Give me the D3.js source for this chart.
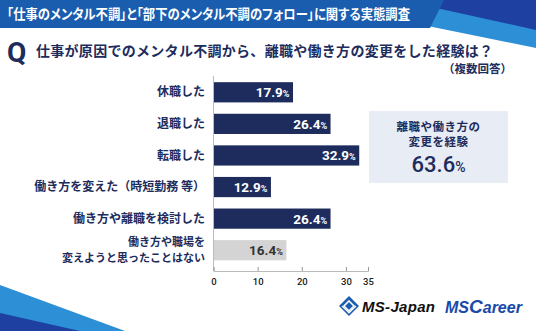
<!DOCTYPE html>
<html><head><meta charset="utf-8">
<script src="https://cdn.jsdelivr.net/npm/d3@7"></script>
<style>body{margin:0;background:#fff}svg{display:block;font-family:"Noto Sans CJK JP","Noto Sans",sans-serif}</style>
</head><body>
<script>
const categories = ["休職した","退職した","転職した","働き方を変えた（時短勤務 等）","働き方や離職を検討した","働き方や職場を\n変えようと思ったことはない"];
const values = [17.9,26.4,32.9,12.9,26.4,16.4];
const highlight = [false,false,false,false,false,true];
const tickValues = [0,10,20,30,35];
const title = "「仕事のメンタル不調」と「部下のメンタル不調のフォロー」に関する実態調査";
const question = "仕事が原因でのメンタル不調から、離職や働き方の変更をした経験は？";
const note = "（複数回答）";
const summaryLines = ["離職や働き方の","変更を経験"];
const summaryValue = 63.6;

const W=536,H=331;
const svg=d3.select("body").append("svg").attr("width",W).attr("height",H);
const navy="#1d2c5c";

// header decorations
svg.append("path").attr("d","M300,0 L536,0 L536,48 Z").attr("fill","#2d8fd6");
svg.append("path").attr("d","M400,0 L536,0 L536,30 Z").attr("fill","#1e40a0");
svg.append("path").attr("d","M0,0 L444,0 L430,28 L0,28 Z").attr("fill","#1a5cad");
svg.append("text").attr("x",7).attr("y",19).attr("fill","#fff").attr("font-size",14).attr("font-weight",700)
  .style("font-feature-settings","'palt'").attr("textLength",403).attr("lengthAdjust","spacingAndGlyphs").text(title);

// bottom-left decorations
svg.append("path").attr("d","M0,285 L125,331 L0,331 Z").attr("fill","#2d8fd6");
svg.append("path").attr("d","M0,313 L80,331 L0,331 Z").attr("fill","#1e40a0");

// Q
svg.append("text").attr("x",7).attr("y",62).attr("fill",navy).attr("font-size",28).attr("font-weight",700).attr("font-family","Roboto,sans-serif").text("Q");
svg.append("text").attr("x",36).attr("y",56).attr("fill",navy).attr("font-size",14).attr("font-weight",700)
  .attr("textLength",457).attr("lengthAdjust","spacing").text(question);
svg.append("text").attr("x",512).attr("y",73).attr("text-anchor","end").attr("fill",navy).attr("font-size",11.5).attr("font-weight",700).text(note);

// chart
const x=d3.scaleLinear().domain([0,35]).range([213.5,368]);
const y=d3.scaleBand().domain(categories).range([76.5,266]).paddingInner(0.36).paddingOuter(0.18);

svg.append("line").attr("x1",x(0)).attr("x2",x(0)).attr("y1",76).attr("y2",271).attr("stroke","#bbb").attr("stroke-width",1);

const g=svg.append("g");
g.selectAll("rect").data(categories).join("rect")
 .attr("x",x(0)+0.5).attr("y",d=>y(d)).attr("height",y.bandwidth())
 .attr("width",(d,i)=>x(values[i])-x(0)).attr("fill",(d,i)=>highlight[i]?"#d4d4d4":navy);

const vl=g.selectAll("text.v").data(categories).join("text").attr("class","v")
 .attr("x",(d,i)=>x(values[i])-3).attr("y",d=>y(d)+y.bandwidth()/2+5)
 .attr("text-anchor","end").attr("fill",(d,i)=>highlight[i]?"#333":"#fff")
 .attr("font-family","Roboto,'Noto Sans',sans-serif").attr("font-weight",700).attr("font-size",13.5);
vl.append("tspan").text((d,i)=>values[i].toFixed(1));
vl.append("tspan").attr("font-size",9).text("%");

categories.forEach(d=>{
  const lines=d.split("\n");
  const cy=y(d)+y.bandwidth()/2;
  const fs=lines.length>1?11:12, lh=16;
  lines.forEach((l,k)=>{
    g.append("text").attr("text-anchor","end").attr("fill",navy).attr("font-size",fs).attr("font-weight",700)
     .attr("x",205).attr("y",cy+4.2+(k-(lines.length-1)/2)*lh).text(l);
  });
});

const ax=svg.append("g").attr("transform","translate(0,271)")
 .call(d3.axisBottom(x).tickValues(tickValues).tickSize(-4).tickPadding(7).tickFormat(d3.format("d")));
ax.select(".domain").attr("stroke","#bbb");
ax.selectAll(".tick line").attr("stroke","#999");
ax.selectAll(".tick text").attr("fill","#222").attr("font-size",9.5).attr("font-family","Roboto,sans-serif").attr("font-weight",500);

// summary box
svg.append("rect").attr("x",369).attr("y",111).attr("width",139).attr("height",72).attr("fill","#e8edf5");
summaryLines.forEach((l,k)=>svg.append("text").attr("x",438.5).attr("y",131+k*15).attr("text-anchor","middle").attr("fill",navy).attr("font-size",11.5).attr("font-weight",700).attr("letter-spacing",0.5).text(l));
const sv=svg.append("text").attr("x",438.5).attr("y",172).attr("text-anchor","middle").attr("fill",navy).attr("font-family","Roboto,sans-serif").attr("font-weight",500).attr("font-size",22);
sv.append("tspan").text(summaryValue.toFixed(1));
sv.append("tspan").attr("font-size",14).text("%");

// logos
const lg=svg.append("g").attr("transform","translate(349,306)");
lg.append("path").attr("d","M0,-10 L10,0 L0,10 L-10,0 Z").attr("fill","#1a5cad");
lg.append("path").attr("d","M0,-5 L5,0 L0,5 L-5,0 Z").attr("fill","none").attr("stroke","#fff").attr("stroke-width",1.6);
lg.append("path").attr("d","M-7,0 L0,7 L7,0").attr("fill","none").attr("stroke","#fff").attr("stroke-width",1.2);
svg.append("text").attr("x",362).attr("y",312).attr("fill","#111").attr("font-family","'Liberation Sans',Arial,sans-serif").attr("font-weight",700).attr("font-style","italic").attr("font-size",15).attr("textLength",73).text("MS-Japan");
const mc=svg.append("text").attr("x",445).attr("y",313).attr("fill","#1a4aa8").attr("font-family","'Liberation Sans',Arial,sans-serif").attr("font-weight",700).attr("font-style","italic").attr("font-size",17);
mc.append("tspan").attr("font-size",16).text("MS");
mc.append("tspan").attr("font-size",19).text("C");
mc.append("tspan").attr("font-size",16).text("areer");
</script>
</body></html>
